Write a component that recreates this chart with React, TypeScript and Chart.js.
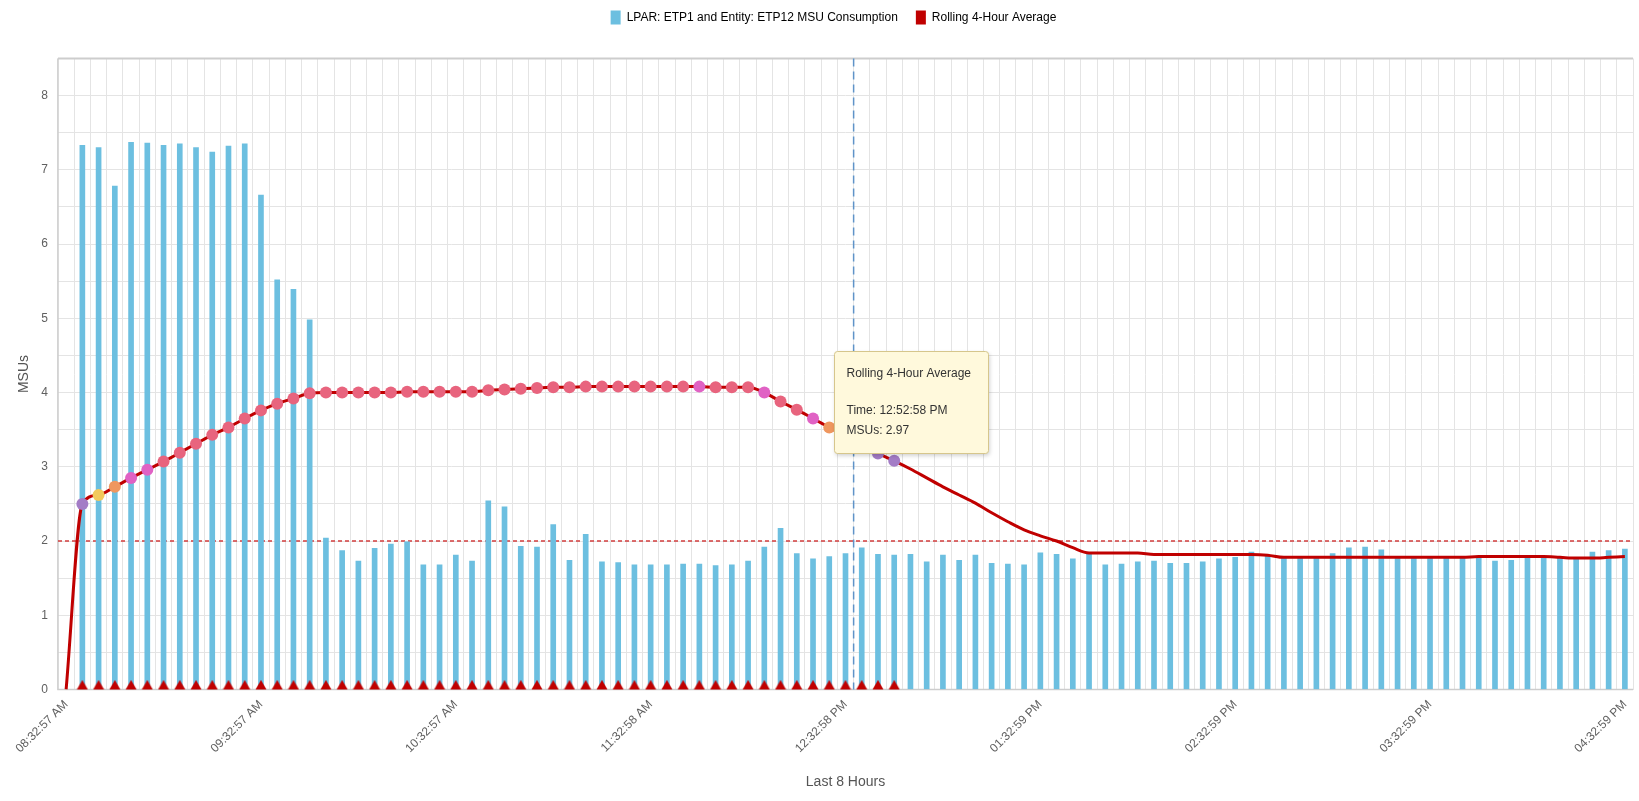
import React, { useEffect, useRef } from 'react';
import { Chart, registerables } from 'chart.js';

Chart.register(...registerables);

// ---------------- data ----------------
const categories = [
  '08:32:57 AM', '08:37:57 AM', '08:42:57 AM', '08:47:57 AM', '08:52:57 AM', '08:57:57 AM',
  '09:02:57 AM', '09:07:57 AM', '09:12:57 AM', '09:17:57 AM', '09:22:57 AM', '09:27:57 AM',
  '09:32:57 AM', '09:37:57 AM', '09:42:57 AM', '09:47:57 AM', '09:52:57 AM', '09:57:57 AM',
  '10:02:57 AM', '10:07:57 AM', '10:12:57 AM', '10:17:57 AM', '10:22:57 AM', '10:27:57 AM',
  '10:32:57 AM', '10:37:57 AM', '10:42:57 AM', '10:47:57 AM', '10:52:57 AM', '10:57:57 AM',
  '11:02:58 AM', '11:07:58 AM', '11:12:58 AM', '11:17:58 AM', '11:22:58 AM', '11:27:58 AM',
  '11:32:58 AM', '11:37:58 AM', '11:42:58 AM', '11:47:58 AM', '11:52:58 AM', '11:57:58 AM',
  '12:02:58 PM', '12:07:58 PM', '12:12:58 PM', '12:17:58 PM', '12:22:58 PM', '12:27:58 PM',
  '12:32:58 PM', '12:37:58 PM', '12:42:58 PM', '12:47:58 PM', '12:52:58 PM', '12:57:58 PM',
  '01:02:58 PM', '01:07:58 PM', '01:12:59 PM', '01:17:59 PM', '01:22:59 PM', '01:27:59 PM',
  '01:32:59 PM', '01:37:59 PM', '01:42:59 PM', '01:47:59 PM', '01:52:59 PM', '01:57:59 PM',
  '02:02:59 PM', '02:07:59 PM', '02:12:59 PM', '02:17:59 PM', '02:22:59 PM', '02:27:59 PM',
  '02:32:59 PM', '02:37:59 PM', '02:42:59 PM', '02:47:59 PM', '02:52:59 PM', '02:57:59 PM',
  '03:02:59 PM', '03:07:59 PM', '03:12:59 PM', '03:17:59 PM', '03:22:59 PM', '03:27:59 PM',
  '03:32:59 PM', '03:37:59 PM', '03:42:59 PM', '03:47:59 PM', '03:52:59 PM', '03:57:59 PM',
  '04:02:59 PM', '04:07:59 PM', '04:12:59 PM', '04:17:59 PM', '04:22:59 PM', '04:27:59 PM',
  '04:32:59 PM',
];

const tickLabels = [
  '08:32:57 AM', '09:32:57 AM', '10:32:57 AM', '11:32:58 AM', '12:32:58 PM',
  '01:32:59 PM', '02:32:59 PM', '03:32:59 PM', '04:32:59 PM',
];

const msuConsumption = [
  null, 7.33, 7.30, 6.78, 7.37, 7.36, 7.33, 7.35, 7.30, 7.24, 7.32, 7.35, 6.66, 5.52, 5.39, 4.98,
  2.04, 1.87, 1.73, 1.90, 1.96, 1.99, 1.68, 1.68, 1.81, 1.73, 2.54, 2.46, 1.93, 1.92, 2.22, 1.74,
  2.09, 1.72, 1.71, 1.68, 1.68, 1.68, 1.69, 1.69, 1.67, 1.68, 1.73, 1.92, 2.17, 1.83, 1.76, 1.79,
  1.83, 1.91, 1.82, 1.81, 1.82, 1.72, 1.81, 1.74, 1.81, 1.70, 1.69, 1.68, 1.84, 1.82, 1.76, 1.82,
  1.68, 1.69, 1.72, 1.73, 1.70, 1.70, 1.72, 1.76, 1.78, 1.85, 1.80, 1.77, 1.77, 1.77, 1.83, 1.91,
  1.92, 1.88, 1.77, 1.77, 1.77, 1.77, 1.77, 1.77, 1.73, 1.74, 1.77, 1.77, 1.77, 1.77, 1.85, 1.87,
  1.89,
];

const rollingAverage = [
  0, 2.50, 2.62, 2.73, 2.85, 2.96, 3.07, 3.19, 3.31, 3.43, 3.53, 3.65, 3.76, 3.85, 3.92, 3.99,
  4.00, 4.00, 4.00, 4.00, 4.00, 4.01, 4.01, 4.01, 4.01, 4.01, 4.03, 4.04, 4.05, 4.06, 4.07, 4.07,
  4.08, 4.08, 4.08, 4.08, 4.08, 4.08, 4.08, 4.08, 4.07, 4.07, 4.07, 4.00, 3.88, 3.77, 3.65, 3.53,
  3.42, 3.30, 3.18, 3.08, 2.97, 2.85, 2.73, 2.62, 2.51, 2.38, 2.26, 2.15, 2.07, 2.00, 1.91, 1.84,
  1.84, 1.84, 1.84, 1.82, 1.82, 1.82, 1.82, 1.82, 1.82, 1.82, 1.81, 1.78, 1.78, 1.78, 1.78, 1.78,
  1.78, 1.78, 1.78, 1.78, 1.78, 1.78, 1.78, 1.79, 1.79, 1.79, 1.79, 1.79, 1.78, 1.77, 1.77, 1.78,
  1.79,
];

// flag markers sitting on the baseline
const flagLevels = [
  null, 0, 0, 0, 0, 0, 0, 0, 0, 0, 0, 0, 0, 0, 0, 0,
  0, 0, 0, 0, 0, 0, 0, 0, 0, 0, 0, 0, 0, 0, 0, 0,
  0, 0, 0, 0, 0, 0, 0, 0, 0, 0, 0, 0, 0, 0, 0, 0,
  0, 0, 0, 0, null, null, null, null, null, null, null, null, null, null, null, null,
  null, null, null, null, null, null, null, null, null, null, null, null, null, null, null, null,
  null, null, null, null, null, null, null, null, null, null, null, null, null, null, null, null,
  null,
];

const thresholdValue = 2;
const markerIndex = 48.5;
const tooltipIndex = 52;
const seriesNames = ['LPAR: ETP1 and Entity: ETP12 MSU Consumption', 'Rolling 4-Hour Average'];

// ---------------- styles ----------------
const FONT = '"Liberation Sans", Arial, sans-serif';
const BAR_COLOR = '#6cbfe0';
const LINE_COLOR = '#c00000';
const PINK = '#e8647e';
const PURPLE = '#a37cc6';
const YELLOW = '#f2ca5c';
const ORANGE = '#ef975f';
const MAGENTA = '#e062c4';
const accentMarkers: Record<number, string> = {
  1: PURPLE, 2: YELLOW, 3: ORANGE, 4: MAGENTA, 5: MAGENTA,
  39: MAGENTA, 43: MAGENTA, 46: MAGENTA, 47: ORANGE, 50: PURPLE, 51: PURPLE,
};

const W = 1639;
const H = 801;
const PLOT_LEFT = 58;
const PLOT_TOP = 58.5;
const PLOT_BOTTOM = 689.5;
const LEGEND_SHIFT_X = 14;
const LEGEND_SHIFT_Y = -7.5;

function makeTriangle(): HTMLCanvasElement {
  const c = document.createElement('canvas');
  c.width = 12;
  c.height = 20;
  const g = c.getContext('2d')!;
  g.fillStyle = LINE_COLOR;
  g.beginPath();
  g.moveTo(0.5, 10);
  g.lineTo(11.5, 10);
  g.lineTo(6, 0.5);
  g.closePath();
  g.fill();
  return c;
}

const layoutPlugin = {
  id: 'layoutTweaks',
  afterInit(chart: any) {
    const legend = chart.legend;
    if (legend) {
      const origFit = legend.fit;
      legend.fit = function () {
        origFit.call(this);
        this.height = PLOT_TOP;
      };
    }
  },
  afterLayout(chart: any) {
    const l = chart.legend;
    if (l) {
      l.left += LEGEND_SHIFT_X;
      l.right += LEGEND_SHIFT_X;
      l.top += LEGEND_SHIFT_Y;
    }
  },
};

const plotLinesPlugin = {
  id: 'plotLines',
  beforeDatasetsDraw(chart: any) {
    const { ctx, chartArea: a, scales } = chart;
    ctx.save();
    // border
    ctx.strokeStyle = '#cdcdcd';
    ctx.lineWidth = 2;
    ctx.beginPath();
    ctx.moveTo(a.left, a.top);
    ctx.lineTo(a.right, a.top);
    ctx.stroke();
    ctx.lineWidth = 1.5;
    ctx.beginPath();
    ctx.moveTo(a.left, a.top);
    ctx.lineTo(a.left, a.bottom);
    ctx.lineTo(a.right, a.bottom);
    ctx.stroke();
    // threshold
    const y = scales.y.getPixelForValue(thresholdValue);
    ctx.strokeStyle = '#d23c3c';
    ctx.lineWidth = 1.5;
    ctx.setLineDash([4, 3]);
    ctx.beginPath();
    ctx.moveTo(a.left, y);
    ctx.lineTo(a.right, y);
    ctx.stroke();
    // vertical marker
    const x = scales.x.getPixelForValue(markerIndex);
    ctx.strokeStyle = '#5f93c8';
    ctx.setLineDash([8, 5]);
    ctx.beginPath();
    ctx.moveTo(x, a.top);
    ctx.lineTo(x, a.bottom);
    ctx.stroke();
    ctx.restore();
  },
};

const tooltipPlugin = {
  id: 'staticTooltip',
  afterDraw(chart: any) {
    const { ctx } = chart;
    const pt = chart.getDatasetMeta(1).data[tooltipIndex];
    if (!pt) return;
    const x0 = Math.round(pt.x - 76.5) + 0.5;
    const y0 = Math.round(pt.y - 118.5) + 0.5;
    const w = 154;
    const h = 102;
    const r = 3;
    ctx.save();
    ctx.beginPath();
    ctx.moveTo(x0 + r, y0);
    ctx.lineTo(x0 + w - r, y0);
    ctx.arcTo(x0 + w, y0, x0 + w, y0 + r, r);
    ctx.lineTo(x0 + w, y0 + h - r);
    ctx.arcTo(x0 + w, y0 + h, x0 + w - r, y0 + h, r);
    ctx.lineTo(x0 + r, y0 + h);
    ctx.arcTo(x0, y0 + h, x0, y0 + h - r, r);
    ctx.lineTo(x0, y0 + r);
    ctx.arcTo(x0, y0, x0 + r, y0, r);
    ctx.closePath();
    ctx.shadowColor = 'rgba(0,0,0,0.2)';
    ctx.shadowBlur = 4;
    ctx.shadowOffsetX = 1;
    ctx.shadowOffsetY = 2;
    ctx.fillStyle = '#fff9dc';
    ctx.fill();
    ctx.shadowColor = 'transparent';
    ctx.strokeStyle = '#d6c68c';
    ctx.lineWidth = 1;
    ctx.stroke();
    ctx.fillStyle = '#333333';
    ctx.font = `12px ${FONT}`;
    ctx.textBaseline = 'middle';
    ctx.textAlign = 'left';
    ctx.fillText(seriesNames[1], x0 + 12, y0 + 22.5);
    ctx.fillText(`Time: ${categories[tooltipIndex]}`, x0 + 12, y0 + 59.5);
    ctx.fillText(`MSUs: ${rollingAverage[tooltipIndex].toFixed(2)}`, x0 + 12, y0 + 79);
    ctx.restore();
  },
};

export default function App() {
  const canvasRef = useRef<HTMLCanvasElement | null>(null);

  useEffect(() => {
    if (!canvasRef.current) return;
    const triangle = makeTriangle();
    const chart = new Chart(canvasRef.current, {
      type: 'bar',
      data: {
        labels: categories,
        datasets: [
          {
            type: 'bar',
            label: seriesNames[0],
            data: msuConsumption,
            backgroundColor: BAR_COLOR,
            borderWidth: 0,
            barThickness: 5,
            order: 3,
          } as any,
          {
            type: 'line',
            label: seriesNames[1],
            data: rollingAverage,
            borderColor: LINE_COLOR,
            backgroundColor: LINE_COLOR,
            borderWidth: 3,
            cubicInterpolationMode: 'monotone',
            pointRadius: (c: any) => (flagLevels[c.dataIndex] === null ? 0 : 6),
            pointBackgroundColor: (c: any) => accentMarkers[c.dataIndex] || PINK,
            pointBorderWidth: 0,
            pointHoverRadius: 0,
            order: 2,
          } as any,
          {
            type: 'line',
            label: 'flags',
            data: flagLevels,
            showLine: false,
            pointStyle: triangle,
            pointRadius: 5,
            clip: false,
            order: 1,
          } as any,
        ],
      },
      options: {
        animation: false,
        responsive: true,
        maintainAspectRatio: false,
        events: [],
        layout: { padding: 0 },
        font: { family: FONT },
        plugins: {
          legend: {
            position: 'top',
            labels: {
              boxWidth: 10,
              boxHeight: 14,
              padding: 18,
              color: '#444444',
              font: { family: FONT, size: 12 },
              generateLabels: () =>
                [0, 1].map((i) => ({
                  text: seriesNames[i],
                  fillStyle: i === 0 ? BAR_COLOR : LINE_COLOR,
                  strokeStyle: 'transparent',
                  lineWidth: 0,
                  datasetIndex: i,
                  hidden: false,
                })),
            },
          },
          tooltip: { enabled: false },
        },
        scales: {
          x: {
            type: 'category',
            offset: true,
            grid: { offset: true, color: '#e4e4e4', lineWidth: 1, drawTicks: false },
            border: { display: false },
            ticks: {
              autoSkip: false,
              maxRotation: 45,
              minRotation: 45,
              padding: 8,
              color: '#606060',
              font: { family: FONT, size: 12 },
              callback: function (this: any, val: any) {
                const label = categories[val as number];
                return tickLabels.includes(label) ? label : '';
              },
            },
            title: {
              display: true,
              text: 'Last 8 Hours',
              color: '#555555',
              font: { family: FONT, size: 14 },
              padding: { top: 4, bottom: 10.5 },
            },
            afterFit: (scale: any) => {
              scale.height = H - PLOT_BOTTOM;
              scale.paddingLeft = 0;
              scale.paddingRight = 0;
            },
          },
          y: {
            type: 'linear',
            min: 0,
            max: 8.5,
            grid: { color: '#e4e4e4', lineWidth: 1, drawTicks: false },
            border: { display: false },
            ticks: {
              stepSize: 0.5,
              includeBounds: false,
              padding: 10,
              color: '#606060',
              font: { family: FONT, size: 12 },
              callback: (v: any) => (Number.isInteger(v) ? String(v) : ''),
            },
            title: {
              display: true,
              text: 'MSUs',
              color: '#555555',
              font: { family: FONT, size: 14 },
              padding: { top: 15.5, bottom: 0 },
            },
            afterFit: (scale: any) => {
              scale.width = PLOT_LEFT;
            },
          },
        },
      },
      plugins: [layoutPlugin, plotLinesPlugin, tooltipPlugin],
    } as any);
    return () => chart.destroy();
  }, []);

  return (
    <div style={{ position: 'absolute', left: 0, top: 0, width: W, height: H, background: '#ffffff' }}>
      <canvas ref={canvasRef} />
    </div>
  );
}
